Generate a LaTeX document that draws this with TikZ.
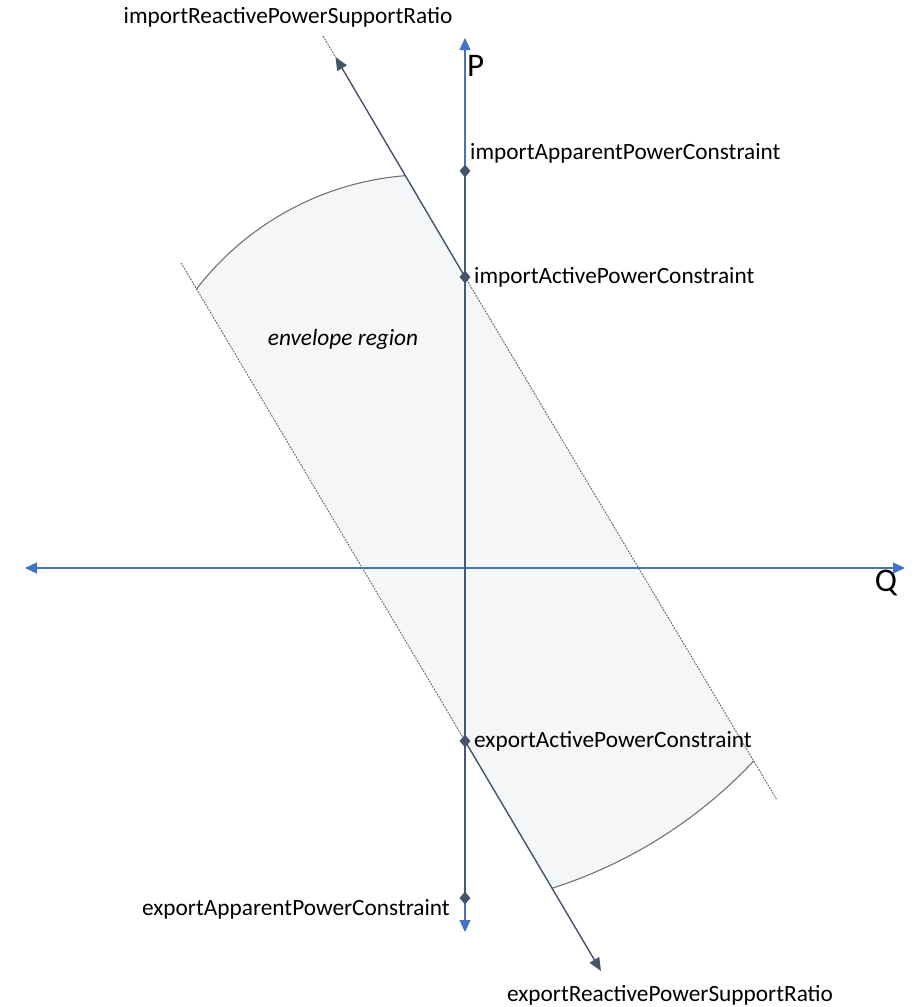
\documentclass[tikz,border=0pt]{standalone}
\usepackage{fontspec}
\setmainfont{Carlito}
\usetikzlibrary{arrows.meta,shapes.geometric}
\definecolor{axisblue}{HTML}{4472C4}
\definecolor{slate}{HTML}{44546A}
\definecolor{regionfill}{HTML}{F5F6F8}
\definecolor{arcgray}{HTML}{6F747A}
\definecolor{dashgray}{HTML}{6A6A6A}
\begin{document}
\begin{tikzpicture}[x=1pt,y=-1pt,
  axis/.style={draw=axisblue, line width=1.1pt, {Triangle[length=12pt,width=11pt]}-{Triangle[length=12pt,width=11pt]}},
  ratio/.style={draw=slate, line width=1.4pt, -{Triangle[length=13pt,width=11pt]}},
  guide/.style={draw=dashgray, line width=0.95pt, dash pattern=on 1.8pt off 1.2pt},
  envarc/.style={draw=arcgray, line width=1.1pt},
  overlay/.style={draw=slate!85!axisblue, line width=1.7pt},
  dmd/.style={diamond, fill=slate, draw=none, inner sep=0pt, minimum width=11pt, minimum height=13pt},
  lbl/.style={inner sep=0pt, font=\fontsize{23.3}{28}\selectfont},
  axlbl/.style={inner sep=0pt, font=\fontsize{33}{39}\selectfont}]
\useasboundingbox (0,0) rectangle (917,1007);
\fill[white] (0,0) rectangle (917,1007);
% key points
\coordinate (O) at (465,568);
\coordinate (Qleft) at (25,568);
\coordinate (Qright) at (905,568);
\coordinate (Ptop) at (465,38);
\coordinate (Pbot) at (465,932);
\coordinate (pIAPS) at (465,171);
\coordinate (pIAPC) at (465,277);
\coordinate (pEAPC) at (465,741);
\coordinate (pEAPS) at (465,898);
\coordinate (A) at (196.5,289);
\coordinate (B) at (406.2,176);
\coordinate (C) at (753.7,761);
\coordinate (D) at (552.3,888);
\coordinate (uTop) at (323,36);
\coordinate (uTip) at (335.5,57);
\coordinate (uEnd) at (777,800);
\coordinate (lStart) at (181.1,263);
\coordinate (lTip) at (601,971);
% envelope region
\path[fill=regionfill] (A) arc[start angle=217.6, end angle=265.5, radius=293.2] -- (C)
  arc[start angle=43.2, end angle=72.3, radius=474.4] -- cycle;
\draw[envarc] (A) arc[start angle=217.6, end angle=265.5, radius=293.2];
\draw[envarc] (C) arc[start angle=43.2, end angle=72.3, radius=474.4];
% guide lines
\draw[guide] (uTop) -- (uTip);
\draw[guide] (pIAPC) -- (uEnd);
\draw[guide] (lStart) -- (pEAPC);
% axes
\draw[axis] (Qleft) -- (Qright);
\draw[axis] (Pbot) -- (Ptop);
\draw[overlay] (pIAPS) -- (pEAPS);
% ratio arrows
\draw[ratio] (pIAPC) -- (uTip);
\draw[ratio] (pEAPC) -- (lTip);
% diamonds
\node[dmd] (iaps) at (pIAPS) {};
\node[dmd] (iapc) at (pIAPC) {};
\node[dmd] (eapc) at (pEAPC) {};
\node[dmd] (eaps) at (pEAPS) {};
% labels
\node[lbl] (lIRR) at (288,17) {importReactivePowerSupportRatio};
\node[axlbl, anchor=west] (lP) at (467,66) {P};
\node[axlbl] (lQ) at (886,583) {Q};
\node[lbl, anchor=west] (lIAPS) at (470,153) {importApparentPowerConstraint};
\node[lbl, anchor=west] (lIAPC) at (474,277) {importActivePowerConstraint};
\node[lbl, font=\fontsize{23.3}{28}\selectfont\itshape] (lENV) at (343,339) {envelope region};
\node[lbl, anchor=west] (lEAPC) at (474,741) {exportActivePowerConstraint};
\node[lbl, anchor=east] (lEAPS) at (450,909) {exportApparentPowerConstraint};
\node[lbl] (lERR) at (670,995) {exportReactivePowerSupportRatio};
\end{tikzpicture}
\end{document}
